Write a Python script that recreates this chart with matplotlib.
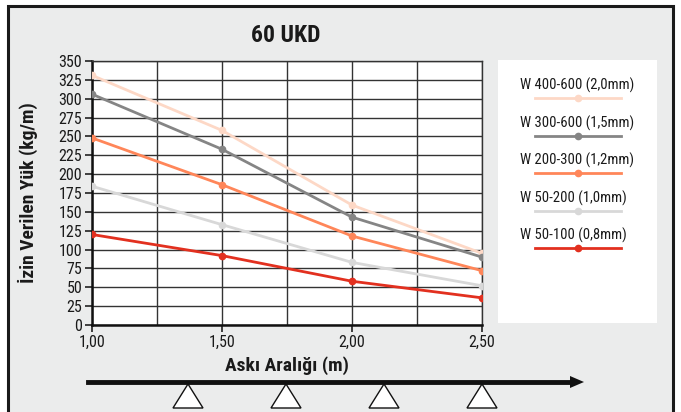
import matplotlib.pyplot as plt
from matplotlib.patches import Rectangle, Polygon
from matplotlib.ticker import MultipleLocator

plt.rcParams['font.family'] = ['Roboto Condensed', 'DejaVu Sans']

# veriler
aski_araligi = [1.0, 1.5, 2.0, 2.5]
w400_600 = [331, 258, 159, 95]
w300_600 = [306, 233, 143, 90]
w200_300 = [248, 186, 118, 72]
w50_200 = [184, 133, 83, 52]
w50_100 = [120, 92, 58, 36]

seriler = ["W 400-600 (2,0mm)", "W 300-600 (1,5mm)", "W 200-300 (1,2mm)",
           "W 50-200 (1,0mm)", "W 50-100 (0,8mm)"]
renkler = ["#fdd8c6", "#858585", "#ff8659", "#d8d8d8", "#e2301f"]
degerler = [w400_600, w300_600, w200_300, w50_200, w50_100]

W, H = 681, 412
fig = plt.figure(figsize=(W / 100, H / 100), dpi=100)
fig.patch.set_facecolor("white")

# arka plan cercevesi
fig.patches.append(Rectangle((8 / W, -0.05), 665 / W, 1 - 6 / H + 0.05,
                             transform=fig.transFigure, facecolor="#ebecec",
                             edgecolor="#1a1a1a", linewidth=2.2, zorder=-5))

ax = fig.add_axes([92 / W, 1 - 325 / H, 390 / W, 264 / H])
ax.set_facecolor("white")

for ad, renk, y in zip(seriler, renkler, degerler):
    ax.plot(aski_araligi, y, color=renk, linewidth=2, marker="o",
            markersize=4.5, label=ad, zorder=3)

ax.set_xlim(1.0, 2.5)
ax.set_ylim(0, 350)
ax.xaxis.set_minor_locator(MultipleLocator(0.25))
ax.yaxis.set_major_locator(MultipleLocator(25))
ax.set_xticks([1.0, 1.5, 2.0, 2.5])
ax.set_xticklabels(["1,00", "1,50", "2,00", "2,50"])
ax.grid(which="both", color="#333333", linewidth=1, zorder=1)
ax.tick_params(axis="x", which="minor", length=0)
ax.tick_params(axis="both", which="major", labelsize=11.5, length=5,
               width=1.2, color="#222222", labelcolor="#1a1a1a", pad=2)
for s in ["top", "right"]:
    ax.spines[s].set_color("#333333")
    ax.spines[s].set_linewidth(1)
for s in ["left", "bottom"]:
    ax.spines[s].set_color("#111111")
    ax.spines[s].set_linewidth(1.8)

ax.set_xlabel("Askı Aralığı (m)", fontsize=14, fontweight="bold",
              color="#1a1a1a")
ax.set_ylabel("İzin Verilen Yük (kg/m)", fontsize=14, fontweight="bold",
              color="#1a1a1a")
ax.xaxis.set_label_coords(0.5, -0.118)
ax.yaxis.set_label_coords(-0.138, 0.5)
fig.text(286 / W, 1 - 35 / H, "60 UKD", fontsize=17, fontweight="bold",
         color="#1a1a1a", ha="center", va="center")

# lejant
lax = fig.add_axes([498 / W, 1 - 323 / H, 159 / W, 263 / H])
lax.set_xlim(0, 159)
lax.set_ylim(263, 0)
lax.axis("off")
lax.add_patch(Rectangle((0, 0), 159, 263, facecolor="white", edgecolor="none"))
for i, (ad, renk) in enumerate(zip(seriler, renkler)):
    ty = 25.5 + i * 37.5
    lax.text(22, ty, ad, fontsize=10.5, color="#1a1a1a", va="center", ha="left")
    lax.plot([37, 123], [ty + 12.5, ty + 12.5], color=renk, linewidth=2)
    lax.plot([80], [ty + 12.5], color=renk, marker="o", markersize=4.5)

# alt kisim: ok ve mesnetler
fig.add_artist(plt.Line2D([88 / W, 572 / W], [1 - 382 / H, 1 - 382 / H],
                          color="#111111", linewidth=3.5,
                          transform=fig.transFigure))
fig.patches.append(Polygon([[570 / W, 1 - 376 / H], [584 / W, 1 - 382 / H],
                            [570 / W, 1 - 388 / H]], closed=True,
                           transform=fig.transFigure, facecolor="#111111",
                           edgecolor="none"))
for cx in [188, 286, 384, 482]:
    fig.patches.append(Polygon([[cx / W, 1 - 384 / H],
                                [(cx - 15) / W, 1 - 408 / H],
                                [(cx + 15) / W, 1 - 408 / H]], closed=True,
                               transform=fig.transFigure, facecolor="white",
                               edgecolor="#111111", linewidth=1))

fig.savefig("out.png", dpi=100)
